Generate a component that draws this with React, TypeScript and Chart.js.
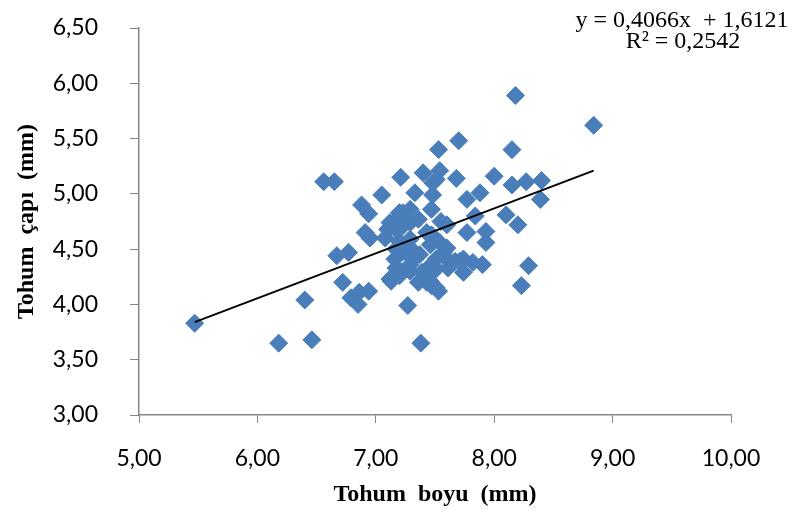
import React, { useEffect, useRef } from "react";
import { Chart, registerables } from "chart.js";

Chart.register(...registerables);

// Seed length (x, mm) and seed diameter (y, mm)
const seedLength: number[] = [
  5.47, 6.18, 6.46, 6.40, 6.72, 6.67, 6.77, 6.91, 6.95, 6.86, 6.94, 6.85, 6.79, 6.56, 6.65, 6.88, 6.94, 7.05,
  8.18, 8.15, 7.70, 7.53, 7.21, 7.40, 7.54, 7.68, 8.00, 8.15, 8.27, 8.40, 8.39, 7.33, 7.48, 7.48, 7.77, 7.88,
  7.84, 8.10, 8.20, 7.77, 7.93, 7.93, 7.90, 8.29, 8.84, 8.23, 7.38, 7.27, 7.13, 7.22, 7.36, 7.46, 7.53, 7.51,
  7.61, 7.71, 7.29, 7.26, 7.34, 7.17, 7.46, 7.57, 7.54, 7.82, 7.47, 7.23, 7.29, 7.15, 7.10, 7.20, 7.29, 7.36,
  7.55, 7.60, 7.43, 7.47, 7.08, 7.20, 7.29, 7.23, 7.32, 7.37, 7.51, 7.67, 7.74, 7.17, 7.12, 7.20, 7.29, 7.43,
  7.47, 7.51, 7.74, 7.26, 7.16, 7.39, 7.47, 7.60, 7.62, 7.51, 7.20, 7.17, 7.12,
];
const seedDiameter: number[] = [
  3.83, 3.65, 3.68, 4.04, 4.20, 4.44, 4.47, 4.65, 4.60, 4.11, 4.12, 4.00, 4.06, 5.11, 5.11, 4.90, 4.82, 4.99,
  5.89, 5.40, 5.48, 5.40, 5.15, 5.19, 5.21, 5.14, 5.16, 5.08, 5.11, 5.12, 4.95, 5.01, 5.10, 4.99, 4.95, 5.01,
  4.80, 4.81, 4.72, 4.65, 4.66, 4.56, 4.36, 4.35, 5.62, 4.17, 3.65, 3.99, 4.21, 4.29, 4.20, 4.21, 4.12, 4.32,
  4.33, 4.39, 4.36, 4.47, 4.44, 4.50, 4.54, 4.47, 4.56, 4.38, 4.86, 4.83, 4.86, 4.74, 4.68, 4.68, 4.74, 4.77,
  4.75, 4.72, 4.65, 4.63, 4.60, 4.57, 4.59, 4.48, 4.48, 4.45, 4.41, 4.39, 4.41, 4.33, 4.23, 4.26, 4.30, 4.20,
  4.17, 4.15, 4.29, 4.77, 4.41, 4.29, 4.36, 4.51, 4.39, 5.13, 4.83, 4.68, 4.74,
];

// Linear trend line end points
const trendX: number[] = [5.47, 8.84];
const trendY: number[] = [3.84, 5.21];

const equationText = "y = 0,4066x  + 1,6121";
const r2Text = "R² = 0,2542";
const xTitle = "Tohum  boyu  (mm)";
const yTitle = "Tohum  çapı  (mm)";

const fmt = (v: number | string) => Number(v).toFixed(2).replace(".", ",");

export default function App() {
  const ref = useRef<HTMLCanvasElement | null>(null);

  useEffect(() => {
    if (!ref.current) return;
    const equationPlugin = {
      id: "equation",
      afterDraw(chart: any) {
        const ctx = chart.ctx;
        ctx.save();
        ctx.fillStyle = "#000";
        ctx.font = "24px 'Liberation Serif'";
        ctx.textAlign = "center";
        ctx.textBaseline = "alphabetic";
        ctx.fillText(equationText, 682, 27);
        ctx.fillText(r2Text, 683, 48);
        ctx.restore();
      },
    };

    const chart = new Chart(ref.current, {
      type: "scatter",
      data: {
        datasets: [
          {
            label: "data",
            data: seedLength.map((x, i) => ({ x, y: seedDiameter[i] })),
            pointStyle: "rectRot",
            pointRadius: 9,
            pointBackgroundColor: "#4a7ebb",
            pointBorderColor: "#4a7ebb",
            pointBorderWidth: 1,
            showLine: false,
            order: 2,
          },
          {
            label: "trend",
            data: trendX.map((x, i) => ({ x, y: trendY[i] })),
            showLine: true,
            borderColor: "#000",
            borderWidth: 2,
            pointRadius: 0,
            order: 1,
          } as any,
        ],
      },
      options: {
        responsive: false,
        animation: false,
        layout: { padding: { top: 28, right: 63, bottom: 0, left: 0 } },
        plugins: { legend: { display: false }, tooltip: { enabled: false } },
        scales: {
          x: {
            type: "linear",
            min: 5,
            max: 10,
            ticks: {
              stepSize: 1,
              callback: (v: any) => fmt(v),
              color: "#000",
              font: { family: "Lato", size: 23 },
              padding: 22,
            },
            grid: { drawOnChartArea: false, drawTicks: true, tickLength: 8, color: "#868686" },
            border: { color: "#868686", width: 1.5 },
            title: {
              display: true,
              text: xTitle,
              color: "#000",
              font: { family: "Liberation Serif", size: 24, weight: "bold" },
              padding: { top: 0, bottom: 4 },
            },
            afterFit: (s: any) => {
              s.height = 98;
              s.paddingLeft = 0;
              s.paddingRight = 0;
            },
          },
          y: {
            type: "linear",
            min: 3,
            max: 6.5,
            ticks: {
              stepSize: 0.5,
              callback: (v: any) => fmt(v),
              color: "#000",
              font: { family: "Lato", size: 23 },
              padding: 32,
            },
            grid: { drawOnChartArea: false, drawTicks: true, tickLength: 9, color: "#868686" },
            border: { color: "#868686", width: 1.5 },
            title: {
              display: true,
              text: yTitle,
              color: "#000",
              font: { family: "Liberation Serif", size: 24, weight: "bold" },
              padding: { top: 12, bottom: 0 },
            },
            afterFit: (s: any) => {
              s.width = 139;
              s.paddingTop = 0;
              s.paddingBottom = 0;
            },
          },
        },
      } as any,
      plugins: [equationPlugin],
    });
    return () => chart.destroy();
  }, []);

  return (
    <div style={{ position: "fixed", left: 0, top: 0, width: 794, height: 513, background: "#fff" }}>
      <canvas ref={ref} width={794} height={513} style={{ width: 794, height: 513, display: "block" }} />
    </div>
  );
}
